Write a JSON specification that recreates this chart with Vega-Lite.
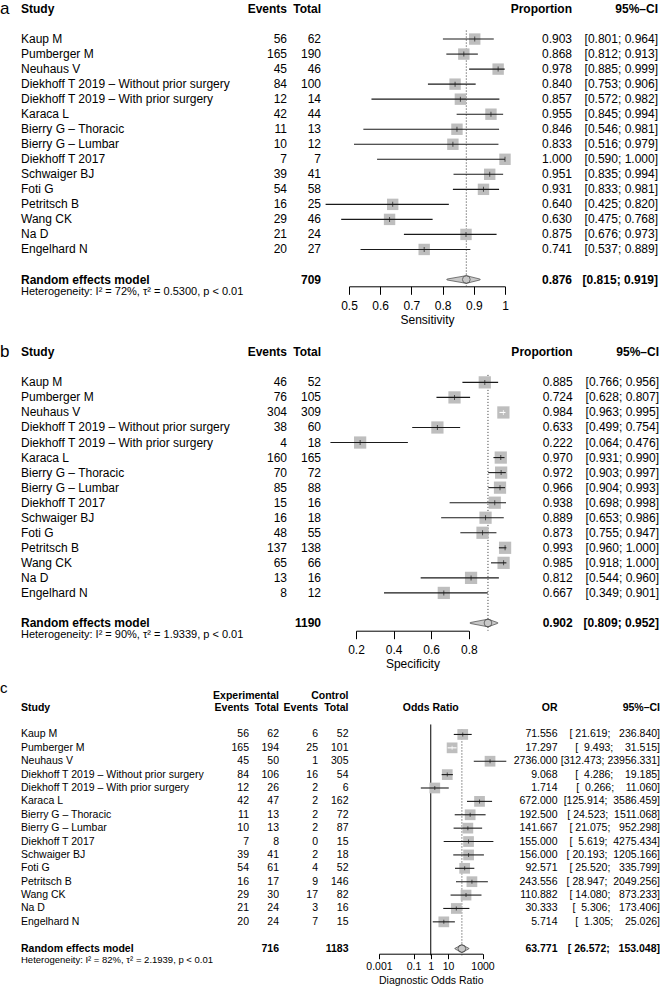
{
"$schema":"https://vega.github.io/schema/vega-lite/v6.json",
"padding":0,
"background":"white",
"datasets":{
"a":[
{"study":"Kaup M","events":56,"total":62,"est":0.903,"lo":0.801,"hi":0.964,"ci":"[0.801; 0.964]"},
{"study":"Pumberger M","events":165,"total":190,"est":0.868,"lo":0.812,"hi":0.913,"ci":"[0.812; 0.913]"},
{"study":"Neuhaus V","events":45,"total":46,"est":0.978,"lo":0.885,"hi":0.999,"ci":"[0.885; 0.999]"},
{"study":"Diekhoff T 2019 – Without prior surgery","events":84,"total":100,"est":0.840,"lo":0.753,"hi":0.906,"ci":"[0.753; 0.906]"},
{"study":"Diekhoff T 2019 – With prior surgery","events":12,"total":14,"est":0.857,"lo":0.572,"hi":0.982,"ci":"[0.572; 0.982]"},
{"study":"Karaca L","events":42,"total":44,"est":0.955,"lo":0.845,"hi":0.994,"ci":"[0.845; 0.994]"},
{"study":"Bierry G – Thoracic","events":11,"total":13,"est":0.846,"lo":0.546,"hi":0.981,"ci":"[0.546; 0.981]"},
{"study":"Bierry G – Lumbar","events":10,"total":12,"est":0.833,"lo":0.516,"hi":0.979,"ci":"[0.516; 0.979]"},
{"study":"Diekhoff T 2017","events":7,"total":7,"est":1.000,"lo":0.590,"hi":1.000,"ci":"[0.590; 1.000]"},
{"study":"Schwaiger BJ","events":39,"total":41,"est":0.951,"lo":0.835,"hi":0.994,"ci":"[0.835; 0.994]"},
{"study":"Foti G","events":54,"total":58,"est":0.931,"lo":0.833,"hi":0.981,"ci":"[0.833; 0.981]"},
{"study":"Petritsch B","events":16,"total":25,"est":0.640,"lo":0.425,"hi":0.820,"ci":"[0.425; 0.820]"},
{"study":"Wang CK","events":29,"total":46,"est":0.630,"lo":0.475,"hi":0.768,"ci":"[0.475; 0.768]"},
{"study":"Na D","events":21,"total":24,"est":0.875,"lo":0.676,"hi":0.973,"ci":"[0.676; 0.973]"},
{"study":"Engelhard N","events":20,"total":27,"est":0.741,"lo":0.537,"hi":0.889,"ci":"[0.537; 0.889]"}
],
"a_sum":[{"total":709,"est":0.876,"lo":0.815,"hi":0.919,"ci":"[0.815; 0.919]"}],
"b":[
{"study":"Kaup M","events":46,"total":52,"est":0.885,"lo":0.766,"hi":0.956,"ci":"[0.766; 0.956]"},
{"study":"Pumberger M","events":76,"total":105,"est":0.724,"lo":0.628,"hi":0.807,"ci":"[0.628; 0.807]"},
{"study":"Neuhaus V","events":304,"total":309,"est":0.984,"lo":0.963,"hi":0.995,"ci":"[0.963; 0.995]"},
{"study":"Diekhoff T 2019 – Without prior surgery","events":38,"total":60,"est":0.633,"lo":0.499,"hi":0.754,"ci":"[0.499; 0.754]"},
{"study":"Diekhoff T 2019 – With prior surgery","events":4,"total":18,"est":0.222,"lo":0.064,"hi":0.476,"ci":"[0.064; 0.476]"},
{"study":"Karaca L","events":160,"total":165,"est":0.970,"lo":0.931,"hi":0.990,"ci":"[0.931; 0.990]"},
{"study":"Bierry G – Thoracic","events":70,"total":72,"est":0.972,"lo":0.903,"hi":0.997,"ci":"[0.903; 0.997]"},
{"study":"Bierry G – Lumbar","events":85,"total":88,"est":0.966,"lo":0.904,"hi":0.993,"ci":"[0.904; 0.993]"},
{"study":"Diekhoff T 2017","events":15,"total":16,"est":0.938,"lo":0.698,"hi":0.998,"ci":"[0.698; 0.998]"},
{"study":"Schwaiger BJ","events":16,"total":18,"est":0.889,"lo":0.653,"hi":0.986,"ci":"[0.653; 0.986]"},
{"study":"Foti G","events":48,"total":55,"est":0.873,"lo":0.755,"hi":0.947,"ci":"[0.755; 0.947]"},
{"study":"Petritsch B","events":137,"total":138,"est":0.993,"lo":0.960,"hi":1.000,"ci":"[0.960; 1.000]"},
{"study":"Wang CK","events":65,"total":66,"est":0.985,"lo":0.918,"hi":1.000,"ci":"[0.918; 1.000]"},
{"study":"Na D","events":13,"total":16,"est":0.812,"lo":0.544,"hi":0.960,"ci":"[0.544; 0.960]"},
{"study":"Engelhard N","events":8,"total":12,"est":0.667,"lo":0.349,"hi":0.901,"ci":"[0.349; 0.901]"}
],
"b_sum":[{"total":1190,"est":0.902,"lo":0.809,"hi":0.952,"ci":"[0.809; 0.952]"}],
"c":[
{"study":"Kaup M","ee":56,"et":62,"ce":6,"ct":52,"est":71.556,"lo":21.619,"hi":236.840,"ci":"[\u00a021.619;\u00a0\u00a0\u00a0236.840]"},
{"study":"Pumberger M","ee":165,"et":194,"ce":25,"ct":101,"est":17.297,"lo":9.493,"hi":31.515,"ci":"[\u00a0\u00a09.493;\u00a0\u00a0\u00a0\u00a031.515]"},
{"study":"Neuhaus V","ee":45,"et":50,"ce":1,"ct":305,"est":2736.000,"lo":312.473,"hi":23956.331,"ci":"[312.473;\u00a023956.331]"},
{"study":"Diekhoff T 2019 – Without prior surgery","ee":84,"et":106,"ce":16,"ct":54,"est":9.068,"lo":4.286,"hi":19.185,"ci":"[\u00a0\u00a04.286;\u00a0\u00a0\u00a0\u00a019.185]"},
{"study":"Diekhoff T 2019 – With prior surgery","ee":12,"et":26,"ce":2,"ct":6,"est":1.714,"lo":0.266,"hi":11.060,"ci":"[\u00a0\u00a00.266;\u00a0\u00a0\u00a0\u00a011.060]"},
{"study":"Karaca L","ee":42,"et":47,"ce":2,"ct":162,"est":672.000,"lo":125.914,"hi":3586.459,"ci":"[125.914;\u00a0\u00a03586.459]"},
{"study":"Bierry G – Thoracic","ee":11,"et":13,"ce":2,"ct":72,"est":192.500,"lo":24.523,"hi":1511.068,"ci":"[\u00a024.523;\u00a0\u00a01511.068]"},
{"study":"Bierry G – Lumbar","ee":10,"et":13,"ce":2,"ct":87,"est":141.667,"lo":21.075,"hi":952.298,"ci":"[\u00a021.075;\u00a0\u00a0\u00a0952.298]"},
{"study":"Diekhoff T 2017","ee":7,"et":8,"ce":0,"ct":15,"est":155.000,"lo":5.619,"hi":4275.434,"ci":"[\u00a0\u00a05.619;\u00a0\u00a04275.434]"},
{"study":"Schwaiger BJ","ee":39,"et":41,"ce":2,"ct":18,"est":156.000,"lo":20.193,"hi":1205.166,"ci":"[\u00a020.193;\u00a0\u00a01205.166]"},
{"study":"Foti G","ee":54,"et":61,"ce":4,"ct":52,"est":92.571,"lo":25.520,"hi":335.799,"ci":"[\u00a025.520;\u00a0\u00a0\u00a0335.799]"},
{"study":"Petritsch B","ee":16,"et":17,"ce":9,"ct":146,"est":243.556,"lo":28.947,"hi":2049.256,"ci":"[\u00a028.947;\u00a0\u00a02049.256]"},
{"study":"Wang CK","ee":29,"et":30,"ce":17,"ct":82,"est":110.882,"lo":14.080,"hi":873.233,"ci":"[\u00a014.080;\u00a0\u00a0\u00a0873.233]"},
{"study":"Na D","ee":21,"et":24,"ce":3,"ct":16,"est":30.333,"lo":5.306,"hi":173.406,"ci":"[\u00a0\u00a05.306;\u00a0\u00a0\u00a0173.406]"},
{"study":"Engelhard N","ee":20,"et":24,"ce":7,"ct":15,"est":5.714,"lo":1.305,"hi":25.026,"ci":"[\u00a0\u00a01.305;\u00a0\u00a0\u00a0\u00a025.026]"}
],
"c_sum":[{"et":716,"ct":1183,"est":63.771,"lo":26.572,"hi":153.048,"ci":"[\u00a026.572;\u00a0\u00a0\u00a0153.048]"}]
},
"vconcat":[
{"hconcat":[
 {"width":21,"height":283.3,"data":{"values":[{"t":"a"}]},"mark":{"type":"text","align":"left","baseline":"middle","fontSize":17},"encoding":{"x":{"datum":0,"type":"quantitative","scale":{"domain":[0,1],"nice":false,"zero":false},"axis":null},"y":{"datum":"hdr","type":"nominal","scale":{"type":"point","domain":["hdr","g1","Kaup M","Pumberger M","Neuhaus V","Diekhoff T 2019 – Without prior surgery","Diekhoff T 2019 – With prior surgery","Karaca L","Bierry G – Thoracic","Bierry G – Lumbar","Diekhoff T 2017","Schwaiger BJ","Foti G","Petritsch B","Wang CK","Na D","Engelhard N","g2","summary"],"padding":0.426,"align":0.469},"axis":null},"text":{"field":"t","type":"nominal"}}},
 {"width":232,"height":283.3,"layer":[
  {"data":{"name":"a"},"mark":{"type":"text","align":"left","baseline":"middle","fontSize":12},"encoding":{"x":{"datum":0,"type":"quantitative","scale":{"domain":[0,1],"nice":false,"zero":false},"axis":null},"y":{"field":"study","type":"nominal","scale":{"type":"point","domain":["hdr","g1","Kaup M","Pumberger M","Neuhaus V","Diekhoff T 2019 – Without prior surgery","Diekhoff T 2019 – With prior surgery","Karaca L","Bierry G – Thoracic","Bierry G – Lumbar","Diekhoff T 2017","Schwaiger BJ","Foti G","Petritsch B","Wang CK","Na D","Engelhard N","g2","summary"],"padding":0.426,"align":0.469},"axis":null},"text":{"field":"study","type":"nominal"}}},
  {"data":{"values":[{"t":"Study"}]},"mark":{"type":"text","align":"left","baseline":"middle","fontSize":12,"fontWeight":"bold"},"encoding":{"x":{"datum":0,"type":"quantitative","scale":{"domain":[0,1],"nice":false,"zero":false},"axis":null},"y":{"datum":"hdr","type":"nominal","scale":{"type":"point","domain":["hdr","g1","Kaup M","Pumberger M","Neuhaus V","Diekhoff T 2019 – Without prior surgery","Diekhoff T 2019 – With prior surgery","Karaca L","Bierry G – Thoracic","Bierry G – Lumbar","Diekhoff T 2017","Schwaiger BJ","Foti G","Petritsch B","Wang CK","Na D","Engelhard N","g2","summary"],"padding":0.426,"align":0.469},"axis":null},"text":{"field":"t","type":"nominal"}}},
  {"data":{"values":[{"t":"Random effects model"}]},"mark":{"type":"text","align":"left","baseline":"middle","fontSize":12,"fontWeight":"bold"},"encoding":{"x":{"datum":0,"type":"quantitative","scale":{"domain":[0,1],"nice":false,"zero":false},"axis":null},"y":{"datum":"summary","type":"nominal","scale":{"type":"point","domain":["hdr","g1","Kaup M","Pumberger M","Neuhaus V","Diekhoff T 2019 – Without prior surgery","Diekhoff T 2019 – With prior surgery","Karaca L","Bierry G – Thoracic","Bierry G – Lumbar","Diekhoff T 2017","Schwaiger BJ","Foti G","Petritsch B","Wang CK","Na D","Engelhard N","g2","summary"],"padding":0.426,"align":0.469},"axis":null},"text":{"field":"t","type":"nominal"}}},
  {"data":{"values":[{"t":"Heterogeneity: I² = 72%, τ² = 0.5300, p < 0.01"}]},"mark":{"type":"text","align":"left","baseline":"middle","fontSize":11,"dy":12.5},"encoding":{"x":{"datum":0,"type":"quantitative","scale":{"domain":[0,1],"nice":false,"zero":false},"axis":null},"y":{"datum":"summary","type":"nominal","scale":{"type":"point","domain":["hdr","g1","Kaup M","Pumberger M","Neuhaus V","Diekhoff T 2019 – Without prior surgery","Diekhoff T 2019 – With prior surgery","Karaca L","Bierry G – Thoracic","Bierry G – Lumbar","Diekhoff T 2017","Schwaiger BJ","Foti G","Petritsch B","Wang CK","Na D","Engelhard N","g2","summary"],"padding":0.426,"align":0.469},"axis":null},"text":{"field":"t","type":"nominal"}}}
 ]},
 {"width":34,"height":283.3,"layer":[
  {"data":{"name":"a"},"mark":{"type":"text","align":"right","baseline":"middle","fontSize":12},"encoding":{"x":{"datum":1,"type":"quantitative","scale":{"domain":[0,1],"nice":false,"zero":false},"axis":null},"y":{"field":"study","type":"nominal","scale":{"type":"point","domain":["hdr","g1","Kaup M","Pumberger M","Neuhaus V","Diekhoff T 2019 – Without prior surgery","Diekhoff T 2019 – With prior surgery","Karaca L","Bierry G – Thoracic","Bierry G – Lumbar","Diekhoff T 2017","Schwaiger BJ","Foti G","Petritsch B","Wang CK","Na D","Engelhard N","g2","summary"],"padding":0.426,"align":0.469},"axis":null},"text":{"field":"events","type":"nominal"}}},
  {"data":{"values":[{"t":"Events"}]},"mark":{"type":"text","align":"right","baseline":"middle","fontSize":12,"fontWeight":"bold"},"encoding":{"x":{"datum":1,"type":"quantitative","scale":{"domain":[0,1],"nice":false,"zero":false},"axis":null},"y":{"datum":"hdr","type":"nominal","scale":{"type":"point","domain":["hdr","g1","Kaup M","Pumberger M","Neuhaus V","Diekhoff T 2019 – Without prior surgery","Diekhoff T 2019 – With prior surgery","Karaca L","Bierry G – Thoracic","Bierry G – Lumbar","Diekhoff T 2017","Schwaiger BJ","Foti G","Petritsch B","Wang CK","Na D","Engelhard N","g2","summary"],"padding":0.426,"align":0.469},"axis":null},"text":{"field":"t","type":"nominal"}}}
 ]},
 {"width":34,"height":283.3,"layer":[
  {"data":{"name":"a"},"mark":{"type":"text","align":"right","baseline":"middle","fontSize":12},"encoding":{"x":{"datum":1,"type":"quantitative","scale":{"domain":[0,1],"nice":false,"zero":false},"axis":null},"y":{"field":"study","type":"nominal","scale":{"type":"point","domain":["hdr","g1","Kaup M","Pumberger M","Neuhaus V","Diekhoff T 2019 – Without prior surgery","Diekhoff T 2019 – With prior surgery","Karaca L","Bierry G – Thoracic","Bierry G – Lumbar","Diekhoff T 2017","Schwaiger BJ","Foti G","Petritsch B","Wang CK","Na D","Engelhard N","g2","summary"],"padding":0.426,"align":0.469},"axis":null},"text":{"field":"total","type":"nominal"}}},
  {"data":{"values":[{"t":"Total"}]},"mark":{"type":"text","align":"right","baseline":"middle","fontSize":12,"fontWeight":"bold"},"encoding":{"x":{"datum":1,"type":"quantitative","scale":{"domain":[0,1],"nice":false,"zero":false},"axis":null},"y":{"datum":"hdr","type":"nominal","scale":{"type":"point","domain":["hdr","g1","Kaup M","Pumberger M","Neuhaus V","Diekhoff T 2019 – Without prior surgery","Diekhoff T 2019 – With prior surgery","Karaca L","Bierry G – Thoracic","Bierry G – Lumbar","Diekhoff T 2017","Schwaiger BJ","Foti G","Petritsch B","Wang CK","Na D","Engelhard N","g2","summary"],"padding":0.426,"align":0.469},"axis":null},"text":{"field":"t","type":"nominal"}}},
  {"data":{"name":"a_sum"},"mark":{"type":"text","align":"right","baseline":"middle","fontSize":12,"fontWeight":"bold"},"encoding":{"x":{"datum":1,"type":"quantitative","scale":{"domain":[0,1],"nice":false,"zero":false},"axis":null},"y":{"datum":"summary","type":"nominal","scale":{"type":"point","domain":["hdr","g1","Kaup M","Pumberger M","Neuhaus V","Diekhoff T 2019 – Without prior surgery","Diekhoff T 2019 – With prior surgery","Karaca L","Bierry G – Thoracic","Bierry G – Lumbar","Diekhoff T 2017","Schwaiger BJ","Foti G","Petritsch B","Wang CK","Na D","Engelhard N","g2","summary"],"padding":0.426,"align":0.469},"axis":null},"text":{"field":"total","type":"nominal"}}}
 ]},
 {"width":28,"height":283.3,"data":{"values":[]},"mark":"text"},
 {"width":156,"height":283.3,"layer":[
  {"data":{"name":"a_sum"},"mark":{"type":"rule","strokeDash":[1,2],"color":"#333333","strokeWidth":1,"yOffset":-8.5,"y2Offset":6.8,"clip":false},"encoding":{"x":{"field":"est","type":"quantitative","scale":{"domain":[0.5,1],"nice":false,"zero":false},"axis":{"values":[0.5,0.6,0.7,0.8,0.9,1],"format":"~g","title":"Sensitivity","tickSize":8,"labelPadding":6,"titlePadding":3,"labelFontSize":12,"titleFontSize":12}},"y":{"datum":"Kaup M","type":"nominal","scale":{"type":"point","domain":["hdr","g1","Kaup M","Pumberger M","Neuhaus V","Diekhoff T 2019 – Without prior surgery","Diekhoff T 2019 – With prior surgery","Karaca L","Bierry G – Thoracic","Bierry G – Lumbar","Diekhoff T 2017","Schwaiger BJ","Foti G","Petritsch B","Wang CK","Na D","Engelhard N","g2","summary"],"padding":0.426,"align":0.469},"axis":null},"y2":{"datum":"summary"}}},
  {"data":{"name":"a"},"mark":{"type":"point","shape":"square","filled":true,"size":130,"color":"#BEBEBE","opacity":1,"strokeWidth":0,"clip":false},"encoding":{"x":{"field":"est","type":"quantitative","scale":{"domain":[0.5,1],"nice":false,"zero":false},"axis":{"values":[0.5,0.6,0.7,0.8,0.9,1],"format":"~g","title":"Sensitivity","tickSize":8,"labelPadding":6,"titlePadding":3,"labelFontSize":12,"titleFontSize":12}},"y":{"field":"study","type":"nominal","scale":{"type":"point","domain":["hdr","g1","Kaup M","Pumberger M","Neuhaus V","Diekhoff T 2019 – Without prior surgery","Diekhoff T 2019 – With prior surgery","Karaca L","Bierry G – Thoracic","Bierry G – Lumbar","Diekhoff T 2017","Schwaiger BJ","Foti G","Petritsch B","Wang CK","Na D","Engelhard N","g2","summary"],"padding":0.426,"align":0.469},"axis":null}}},
  {"data":{"name":"a"},"mark":{"type":"rule","strokeWidth":1.1,"clip":false},"encoding":{"x":{"field":"lo","type":"quantitative","scale":{"domain":[0.5,1],"nice":false,"zero":false},"axis":{"values":[0.5,0.6,0.7,0.8,0.9,1],"format":"~g","title":"Sensitivity","tickSize":8,"labelPadding":6,"titlePadding":3,"labelFontSize":12,"titleFontSize":12}},"x2":{"field":"hi"},"y":{"field":"study","type":"nominal","scale":{"type":"point","domain":["hdr","g1","Kaup M","Pumberger M","Neuhaus V","Diekhoff T 2019 – Without prior surgery","Diekhoff T 2019 – With prior surgery","Karaca L","Bierry G – Thoracic","Bierry G – Lumbar","Diekhoff T 2017","Schwaiger BJ","Foti G","Petritsch B","Wang CK","Na D","Engelhard N","g2","summary"],"padding":0.426,"align":0.469},"axis":null},"color":{"condition":{"test":"datum.est - datum.lo < 0.0176 && datum.hi - datum.est < 0.0176","value":"#ffffff"},"value":"#1a1a1a"}}},
  {"data":{"name":"a"},"mark":{"type":"tick","size":5,"thickness":1,"clip":false},"encoding":{"x":{"field":"est","type":"quantitative","scale":{"domain":[0.5,1],"nice":false,"zero":false},"axis":{"values":[0.5,0.6,0.7,0.8,0.9,1],"format":"~g","title":"Sensitivity","tickSize":8,"labelPadding":6,"titlePadding":3,"labelFontSize":12,"titleFontSize":12}},"y":{"field":"study","type":"nominal","scale":{"type":"point","domain":["hdr","g1","Kaup M","Pumberger M","Neuhaus V","Diekhoff T 2019 – Without prior surgery","Diekhoff T 2019 – With prior surgery","Karaca L","Bierry G – Thoracic","Bierry G – Lumbar","Diekhoff T 2017","Schwaiger BJ","Foti G","Petritsch B","Wang CK","Na D","Engelhard N","g2","summary"],"padding":0.426,"align":0.469},"axis":null},"color":{"condition":{"test":"datum.est - datum.lo < 0.0176 && datum.hi - datum.est < 0.0176","value":"#ffffff"},"value":"#1a1a1a"}}},
  {"data":{"name":"a_sum"},"transform":[{"fold":["lo","est","hi"],"as":["k","v"]}],"mark":{"type":"trail","color":"#C8C8C8","stroke":"#444444","strokeWidth":0.7,"clip":false},"encoding":{"x":{"field":"v","type":"quantitative","scale":{"domain":[0.5,1],"nice":false,"zero":false},"axis":{"values":[0.5,0.6,0.7,0.8,0.9,1],"format":"~g","title":"Sensitivity","tickSize":8,"labelPadding":6,"titlePadding":3,"labelFontSize":12,"titleFontSize":12}},"y":{"datum":"summary","type":"nominal","scale":{"type":"point","domain":["hdr","g1","Kaup M","Pumberger M","Neuhaus V","Diekhoff T 2019 – Without prior surgery","Diekhoff T 2019 – With prior surgery","Karaca L","Bierry G – Thoracic","Bierry G – Lumbar","Diekhoff T 2017","Schwaiger BJ","Foti G","Petritsch B","Wang CK","Na D","Engelhard N","g2","summary"],"padding":0.426,"align":0.469},"axis":null},"size":{"field":"k","type":"nominal","scale":{"type":"ordinal","domain":["lo","est","hi"],"range":[0,7.7,0]},"legend":null}}}
 ]},
 {"width":67,"height":283.3,"layer":[
  {"data":{"name":"a"},"mark":{"type":"text","align":"right","baseline":"middle","fontSize":12},"encoding":{"x":{"datum":1,"type":"quantitative","scale":{"domain":[0,1],"nice":false,"zero":false},"axis":null},"y":{"field":"study","type":"nominal","scale":{"type":"point","domain":["hdr","g1","Kaup M","Pumberger M","Neuhaus V","Diekhoff T 2019 – Without prior surgery","Diekhoff T 2019 – With prior surgery","Karaca L","Bierry G – Thoracic","Bierry G – Lumbar","Diekhoff T 2017","Schwaiger BJ","Foti G","Petritsch B","Wang CK","Na D","Engelhard N","g2","summary"],"padding":0.426,"align":0.469},"axis":null},"text":{"field":"est","type":"quantitative","format":".3f"}}},
  {"data":{"values":[{"t":"Proportion"}]},"mark":{"type":"text","align":"right","baseline":"middle","fontSize":12,"fontWeight":"bold"},"encoding":{"x":{"datum":1,"type":"quantitative","scale":{"domain":[0,1],"nice":false,"zero":false},"axis":null},"y":{"datum":"hdr","type":"nominal","scale":{"type":"point","domain":["hdr","g1","Kaup M","Pumberger M","Neuhaus V","Diekhoff T 2019 – Without prior surgery","Diekhoff T 2019 – With prior surgery","Karaca L","Bierry G – Thoracic","Bierry G – Lumbar","Diekhoff T 2017","Schwaiger BJ","Foti G","Petritsch B","Wang CK","Na D","Engelhard N","g2","summary"],"padding":0.426,"align":0.469},"axis":null},"text":{"field":"t","type":"nominal"}}},
  {"data":{"name":"a_sum"},"mark":{"type":"text","align":"right","baseline":"middle","fontSize":12,"fontWeight":"bold"},"encoding":{"x":{"datum":1,"type":"quantitative","scale":{"domain":[0,1],"nice":false,"zero":false},"axis":null},"y":{"datum":"summary","type":"nominal","scale":{"type":"point","domain":["hdr","g1","Kaup M","Pumberger M","Neuhaus V","Diekhoff T 2019 – Without prior surgery","Diekhoff T 2019 – With prior surgery","Karaca L","Bierry G – Thoracic","Bierry G – Lumbar","Diekhoff T 2017","Schwaiger BJ","Foti G","Petritsch B","Wang CK","Na D","Engelhard N","g2","summary"],"padding":0.426,"align":0.469},"axis":null},"text":{"field":"est","type":"quantitative","format":".3f"}}}
 ]},
 {"width":86,"height":283.3,"layer":[
  {"data":{"name":"a"},"mark":{"type":"text","align":"right","baseline":"middle","fontSize":12},"encoding":{"x":{"datum":1,"type":"quantitative","scale":{"domain":[0,1],"nice":false,"zero":false},"axis":null},"y":{"field":"study","type":"nominal","scale":{"type":"point","domain":["hdr","g1","Kaup M","Pumberger M","Neuhaus V","Diekhoff T 2019 – Without prior surgery","Diekhoff T 2019 – With prior surgery","Karaca L","Bierry G – Thoracic","Bierry G – Lumbar","Diekhoff T 2017","Schwaiger BJ","Foti G","Petritsch B","Wang CK","Na D","Engelhard N","g2","summary"],"padding":0.426,"align":0.469},"axis":null},"text":{"field":"ci","type":"nominal"}}},
  {"data":{"values":[{"t":"95%–CI"}]},"mark":{"type":"text","align":"right","baseline":"middle","fontSize":12,"fontWeight":"bold"},"encoding":{"x":{"datum":1,"type":"quantitative","scale":{"domain":[0,1],"nice":false,"zero":false},"axis":null},"y":{"datum":"hdr","type":"nominal","scale":{"type":"point","domain":["hdr","g1","Kaup M","Pumberger M","Neuhaus V","Diekhoff T 2019 – Without prior surgery","Diekhoff T 2019 – With prior surgery","Karaca L","Bierry G – Thoracic","Bierry G – Lumbar","Diekhoff T 2017","Schwaiger BJ","Foti G","Petritsch B","Wang CK","Na D","Engelhard N","g2","summary"],"padding":0.426,"align":0.469},"axis":null},"text":{"field":"t","type":"nominal"}}},
  {"data":{"name":"a_sum"},"mark":{"type":"text","align":"right","baseline":"middle","fontSize":12,"fontWeight":"bold"},"encoding":{"x":{"datum":1,"type":"quantitative","scale":{"domain":[0,1],"nice":false,"zero":false},"axis":null},"y":{"datum":"summary","type":"nominal","scale":{"type":"point","domain":["hdr","g1","Kaup M","Pumberger M","Neuhaus V","Diekhoff T 2019 – Without prior surgery","Diekhoff T 2019 – With prior surgery","Karaca L","Bierry G – Thoracic","Bierry G – Lumbar","Diekhoff T 2017","Schwaiger BJ","Foti G","Petritsch B","Wang CK","Na D","Engelhard N","g2","summary"],"padding":0.426,"align":0.469},"axis":null},"text":{"field":"ci","type":"nominal"}}}
 ]}
],"spacing":0,"bounds":"flush","resolve":{"scale":{"x":"independent","y":"independent"}}},
{"hconcat":[
 {"width":21,"height":293.7,"data":{"values":[{"t":"b"}]},"mark":{"type":"text","align":"left","baseline":"middle","fontSize":17},"encoding":{"x":{"datum":0,"type":"quantitative","scale":{"domain":[0,1],"nice":false,"zero":false},"axis":null},"y":{"datum":"hdr","type":"nominal","scale":{"type":"point","domain":["hdr","g1","Kaup M","Pumberger M","Neuhaus V","Diekhoff T 2019 – Without prior surgery","Diekhoff T 2019 – With prior surgery","Karaca L","Bierry G – Thoracic","Bierry G – Lumbar","Diekhoff T 2017","Schwaiger BJ","Foti G","Petritsch B","Wang CK","Na D","Engelhard N","g2","summary"],"padding":0.765,"align":0.665},"axis":null},"text":{"field":"t","type":"nominal"}}},
 {"width":232,"height":293.7,"layer":[
  {"data":{"name":"b"},"mark":{"type":"text","align":"left","baseline":"middle","fontSize":12},"encoding":{"x":{"datum":0,"type":"quantitative","scale":{"domain":[0,1],"nice":false,"zero":false},"axis":null},"y":{"field":"study","type":"nominal","scale":{"type":"point","domain":["hdr","g1","Kaup M","Pumberger M","Neuhaus V","Diekhoff T 2019 – Without prior surgery","Diekhoff T 2019 – With prior surgery","Karaca L","Bierry G – Thoracic","Bierry G – Lumbar","Diekhoff T 2017","Schwaiger BJ","Foti G","Petritsch B","Wang CK","Na D","Engelhard N","g2","summary"],"padding":0.765,"align":0.665},"axis":null},"text":{"field":"study","type":"nominal"}}},
  {"data":{"values":[{"t":"Study"}]},"mark":{"type":"text","align":"left","baseline":"middle","fontSize":12,"fontWeight":"bold"},"encoding":{"x":{"datum":0,"type":"quantitative","scale":{"domain":[0,1],"nice":false,"zero":false},"axis":null},"y":{"datum":"hdr","type":"nominal","scale":{"type":"point","domain":["hdr","g1","Kaup M","Pumberger M","Neuhaus V","Diekhoff T 2019 – Without prior surgery","Diekhoff T 2019 – With prior surgery","Karaca L","Bierry G – Thoracic","Bierry G – Lumbar","Diekhoff T 2017","Schwaiger BJ","Foti G","Petritsch B","Wang CK","Na D","Engelhard N","g2","summary"],"padding":0.765,"align":0.665},"axis":null},"text":{"field":"t","type":"nominal"}}},
  {"data":{"values":[{"t":"Random effects model"}]},"mark":{"type":"text","align":"left","baseline":"middle","fontSize":12,"fontWeight":"bold"},"encoding":{"x":{"datum":0,"type":"quantitative","scale":{"domain":[0,1],"nice":false,"zero":false},"axis":null},"y":{"datum":"summary","type":"nominal","scale":{"type":"point","domain":["hdr","g1","Kaup M","Pumberger M","Neuhaus V","Diekhoff T 2019 – Without prior surgery","Diekhoff T 2019 – With prior surgery","Karaca L","Bierry G – Thoracic","Bierry G – Lumbar","Diekhoff T 2017","Schwaiger BJ","Foti G","Petritsch B","Wang CK","Na D","Engelhard N","g2","summary"],"padding":0.765,"align":0.665},"axis":null},"text":{"field":"t","type":"nominal"}}},
  {"data":{"values":[{"t":"Heterogeneity: I² = 90%, τ² = 1.9339, p < 0.01"}]},"mark":{"type":"text","align":"left","baseline":"middle","fontSize":11,"dy":12.5},"encoding":{"x":{"datum":0,"type":"quantitative","scale":{"domain":[0,1],"nice":false,"zero":false},"axis":null},"y":{"datum":"summary","type":"nominal","scale":{"type":"point","domain":["hdr","g1","Kaup M","Pumberger M","Neuhaus V","Diekhoff T 2019 – Without prior surgery","Diekhoff T 2019 – With prior surgery","Karaca L","Bierry G – Thoracic","Bierry G – Lumbar","Diekhoff T 2017","Schwaiger BJ","Foti G","Petritsch B","Wang CK","Na D","Engelhard N","g2","summary"],"padding":0.765,"align":0.665},"axis":null},"text":{"field":"t","type":"nominal"}}}
 ]},
 {"width":34,"height":293.7,"layer":[
  {"data":{"name":"b"},"mark":{"type":"text","align":"right","baseline":"middle","fontSize":12},"encoding":{"x":{"datum":1,"type":"quantitative","scale":{"domain":[0,1],"nice":false,"zero":false},"axis":null},"y":{"field":"study","type":"nominal","scale":{"type":"point","domain":["hdr","g1","Kaup M","Pumberger M","Neuhaus V","Diekhoff T 2019 – Without prior surgery","Diekhoff T 2019 – With prior surgery","Karaca L","Bierry G – Thoracic","Bierry G – Lumbar","Diekhoff T 2017","Schwaiger BJ","Foti G","Petritsch B","Wang CK","Na D","Engelhard N","g2","summary"],"padding":0.765,"align":0.665},"axis":null},"text":{"field":"events","type":"nominal"}}},
  {"data":{"values":[{"t":"Events"}]},"mark":{"type":"text","align":"right","baseline":"middle","fontSize":12,"fontWeight":"bold"},"encoding":{"x":{"datum":1,"type":"quantitative","scale":{"domain":[0,1],"nice":false,"zero":false},"axis":null},"y":{"datum":"hdr","type":"nominal","scale":{"type":"point","domain":["hdr","g1","Kaup M","Pumberger M","Neuhaus V","Diekhoff T 2019 – Without prior surgery","Diekhoff T 2019 – With prior surgery","Karaca L","Bierry G – Thoracic","Bierry G – Lumbar","Diekhoff T 2017","Schwaiger BJ","Foti G","Petritsch B","Wang CK","Na D","Engelhard N","g2","summary"],"padding":0.765,"align":0.665},"axis":null},"text":{"field":"t","type":"nominal"}}}
 ]},
 {"width":34,"height":293.7,"layer":[
  {"data":{"name":"b"},"mark":{"type":"text","align":"right","baseline":"middle","fontSize":12},"encoding":{"x":{"datum":1,"type":"quantitative","scale":{"domain":[0,1],"nice":false,"zero":false},"axis":null},"y":{"field":"study","type":"nominal","scale":{"type":"point","domain":["hdr","g1","Kaup M","Pumberger M","Neuhaus V","Diekhoff T 2019 – Without prior surgery","Diekhoff T 2019 – With prior surgery","Karaca L","Bierry G – Thoracic","Bierry G – Lumbar","Diekhoff T 2017","Schwaiger BJ","Foti G","Petritsch B","Wang CK","Na D","Engelhard N","g2","summary"],"padding":0.765,"align":0.665},"axis":null},"text":{"field":"total","type":"nominal"}}},
  {"data":{"values":[{"t":"Total"}]},"mark":{"type":"text","align":"right","baseline":"middle","fontSize":12,"fontWeight":"bold"},"encoding":{"x":{"datum":1,"type":"quantitative","scale":{"domain":[0,1],"nice":false,"zero":false},"axis":null},"y":{"datum":"hdr","type":"nominal","scale":{"type":"point","domain":["hdr","g1","Kaup M","Pumberger M","Neuhaus V","Diekhoff T 2019 – Without prior surgery","Diekhoff T 2019 – With prior surgery","Karaca L","Bierry G – Thoracic","Bierry G – Lumbar","Diekhoff T 2017","Schwaiger BJ","Foti G","Petritsch B","Wang CK","Na D","Engelhard N","g2","summary"],"padding":0.765,"align":0.665},"axis":null},"text":{"field":"t","type":"nominal"}}},
  {"data":{"name":"b_sum"},"mark":{"type":"text","align":"right","baseline":"middle","fontSize":12,"fontWeight":"bold"},"encoding":{"x":{"datum":1,"type":"quantitative","scale":{"domain":[0,1],"nice":false,"zero":false},"axis":null},"y":{"datum":"summary","type":"nominal","scale":{"type":"point","domain":["hdr","g1","Kaup M","Pumberger M","Neuhaus V","Diekhoff T 2019 – Without prior surgery","Diekhoff T 2019 – With prior surgery","Karaca L","Bierry G – Thoracic","Bierry G – Lumbar","Diekhoff T 2017","Schwaiger BJ","Foti G","Petritsch B","Wang CK","Na D","Engelhard N","g2","summary"],"padding":0.765,"align":0.665},"axis":null},"text":{"field":"total","type":"nominal"}}}
 ]},
 {"width":34.5,"height":293.7,"data":{"values":[]},"mark":"text"},
 {"width":112.8,"height":293.7,"layer":[
  {"data":{"name":"b_sum"},"mark":{"type":"rule","strokeDash":[1,2],"color":"#333333","strokeWidth":1,"yOffset":-7.5,"y2Offset":7.7,"clip":false},"encoding":{"x":{"field":"est","type":"quantitative","scale":{"domain":[0.2,0.8],"nice":false,"zero":false},"axis":{"values":[0.2,0.4,0.6,0.8],"format":"~g","title":"Specificity","tickSize":8,"labelPadding":6,"titlePadding":3,"labelFontSize":12,"titleFontSize":12}},"y":{"datum":"Kaup M","type":"nominal","scale":{"type":"point","domain":["hdr","g1","Kaup M","Pumberger M","Neuhaus V","Diekhoff T 2019 – Without prior surgery","Diekhoff T 2019 – With prior surgery","Karaca L","Bierry G – Thoracic","Bierry G – Lumbar","Diekhoff T 2017","Schwaiger BJ","Foti G","Petritsch B","Wang CK","Na D","Engelhard N","g2","summary"],"padding":0.765,"align":0.665},"axis":null},"y2":{"datum":"summary"}}},
  {"data":{"name":"b"},"mark":{"type":"point","shape":"square","filled":true,"size":150,"color":"#BEBEBE","opacity":1,"strokeWidth":0,"clip":false},"encoding":{"x":{"field":"est","type":"quantitative","scale":{"domain":[0.2,0.8],"nice":false,"zero":false},"axis":{"values":[0.2,0.4,0.6,0.8],"format":"~g","title":"Specificity","tickSize":8,"labelPadding":6,"titlePadding":3,"labelFontSize":12,"titleFontSize":12}},"y":{"field":"study","type":"nominal","scale":{"type":"point","domain":["hdr","g1","Kaup M","Pumberger M","Neuhaus V","Diekhoff T 2019 – Without prior surgery","Diekhoff T 2019 – With prior surgery","Karaca L","Bierry G – Thoracic","Bierry G – Lumbar","Diekhoff T 2017","Schwaiger BJ","Foti G","Petritsch B","Wang CK","Na D","Engelhard N","g2","summary"],"padding":0.765,"align":0.665},"axis":null}}},
  {"data":{"name":"b"},"mark":{"type":"rule","strokeWidth":1.1,"clip":false},"encoding":{"x":{"field":"lo","type":"quantitative","scale":{"domain":[0.2,0.8],"nice":false,"zero":false},"axis":{"values":[0.2,0.4,0.6,0.8],"format":"~g","title":"Specificity","tickSize":8,"labelPadding":6,"titlePadding":3,"labelFontSize":12,"titleFontSize":12}},"x2":{"field":"hi"},"y":{"field":"study","type":"nominal","scale":{"type":"point","domain":["hdr","g1","Kaup M","Pumberger M","Neuhaus V","Diekhoff T 2019 – Without prior surgery","Diekhoff T 2019 – With prior surgery","Karaca L","Bierry G – Thoracic","Bierry G – Lumbar","Diekhoff T 2017","Schwaiger BJ","Foti G","Petritsch B","Wang CK","Na D","Engelhard N","g2","summary"],"padding":0.765,"align":0.665},"axis":null},"color":{"condition":{"test":"datum.est - datum.lo < 0.029 && datum.hi - datum.est < 0.029","value":"#ffffff"},"value":"#1a1a1a"}}},
  {"data":{"name":"b"},"mark":{"type":"tick","size":5,"thickness":1,"clip":false},"encoding":{"x":{"field":"est","type":"quantitative","scale":{"domain":[0.2,0.8],"nice":false,"zero":false},"axis":{"values":[0.2,0.4,0.6,0.8],"format":"~g","title":"Specificity","tickSize":8,"labelPadding":6,"titlePadding":3,"labelFontSize":12,"titleFontSize":12}},"y":{"field":"study","type":"nominal","scale":{"type":"point","domain":["hdr","g1","Kaup M","Pumberger M","Neuhaus V","Diekhoff T 2019 – Without prior surgery","Diekhoff T 2019 – With prior surgery","Karaca L","Bierry G – Thoracic","Bierry G – Lumbar","Diekhoff T 2017","Schwaiger BJ","Foti G","Petritsch B","Wang CK","Na D","Engelhard N","g2","summary"],"padding":0.765,"align":0.665},"axis":null},"color":{"condition":{"test":"datum.est - datum.lo < 0.029 && datum.hi - datum.est < 0.029","value":"#ffffff"},"value":"#1a1a1a"}}},
  {"data":{"name":"b_sum"},"transform":[{"fold":["lo","est","hi"],"as":["k","v"]}],"mark":{"type":"trail","color":"#C8C8C8","stroke":"#444444","strokeWidth":0.7,"clip":false},"encoding":{"x":{"field":"v","type":"quantitative","scale":{"domain":[0.2,0.8],"nice":false,"zero":false},"axis":{"values":[0.2,0.4,0.6,0.8],"format":"~g","title":"Specificity","tickSize":8,"labelPadding":6,"titlePadding":3,"labelFontSize":12,"titleFontSize":12}},"y":{"datum":"summary","type":"nominal","scale":{"type":"point","domain":["hdr","g1","Kaup M","Pumberger M","Neuhaus V","Diekhoff T 2019 – Without prior surgery","Diekhoff T 2019 – With prior surgery","Karaca L","Bierry G – Thoracic","Bierry G – Lumbar","Diekhoff T 2017","Schwaiger BJ","Foti G","Petritsch B","Wang CK","Na D","Engelhard N","g2","summary"],"padding":0.765,"align":0.665},"axis":null},"size":{"field":"k","type":"nominal","scale":{"type":"ordinal","domain":["lo","est","hi"],"range":[0,8.3,0]},"legend":null}}}
 ]},
 {"width":103.7,"height":293.7,"layer":[
  {"data":{"name":"b"},"mark":{"type":"text","align":"right","baseline":"middle","fontSize":12},"encoding":{"x":{"datum":1,"type":"quantitative","scale":{"domain":[0,1],"nice":false,"zero":false},"axis":null},"y":{"field":"study","type":"nominal","scale":{"type":"point","domain":["hdr","g1","Kaup M","Pumberger M","Neuhaus V","Diekhoff T 2019 – Without prior surgery","Diekhoff T 2019 – With prior surgery","Karaca L","Bierry G – Thoracic","Bierry G – Lumbar","Diekhoff T 2017","Schwaiger BJ","Foti G","Petritsch B","Wang CK","Na D","Engelhard N","g2","summary"],"padding":0.765,"align":0.665},"axis":null},"text":{"field":"est","type":"quantitative","format":".3f"}}},
  {"data":{"values":[{"t":"Proportion"}]},"mark":{"type":"text","align":"right","baseline":"middle","fontSize":12,"fontWeight":"bold"},"encoding":{"x":{"datum":1,"type":"quantitative","scale":{"domain":[0,1],"nice":false,"zero":false},"axis":null},"y":{"datum":"hdr","type":"nominal","scale":{"type":"point","domain":["hdr","g1","Kaup M","Pumberger M","Neuhaus V","Diekhoff T 2019 – Without prior surgery","Diekhoff T 2019 – With prior surgery","Karaca L","Bierry G – Thoracic","Bierry G – Lumbar","Diekhoff T 2017","Schwaiger BJ","Foti G","Petritsch B","Wang CK","Na D","Engelhard N","g2","summary"],"padding":0.765,"align":0.665},"axis":null},"text":{"field":"t","type":"nominal"}}},
  {"data":{"name":"b_sum"},"mark":{"type":"text","align":"right","baseline":"middle","fontSize":12,"fontWeight":"bold"},"encoding":{"x":{"datum":1,"type":"quantitative","scale":{"domain":[0,1],"nice":false,"zero":false},"axis":null},"y":{"datum":"summary","type":"nominal","scale":{"type":"point","domain":["hdr","g1","Kaup M","Pumberger M","Neuhaus V","Diekhoff T 2019 – Without prior surgery","Diekhoff T 2019 – With prior surgery","Karaca L","Bierry G – Thoracic","Bierry G – Lumbar","Diekhoff T 2017","Schwaiger BJ","Foti G","Petritsch B","Wang CK","Na D","Engelhard N","g2","summary"],"padding":0.765,"align":0.665},"axis":null},"text":{"field":"est","type":"quantitative","format":".3f"}}}
 ]},
 {"width":86,"height":293.7,"layer":[
  {"data":{"name":"b"},"mark":{"type":"text","align":"right","baseline":"middle","fontSize":12},"encoding":{"x":{"datum":1,"type":"quantitative","scale":{"domain":[0,1],"nice":false,"zero":false},"axis":null},"y":{"field":"study","type":"nominal","scale":{"type":"point","domain":["hdr","g1","Kaup M","Pumberger M","Neuhaus V","Diekhoff T 2019 – Without prior surgery","Diekhoff T 2019 – With prior surgery","Karaca L","Bierry G – Thoracic","Bierry G – Lumbar","Diekhoff T 2017","Schwaiger BJ","Foti G","Petritsch B","Wang CK","Na D","Engelhard N","g2","summary"],"padding":0.765,"align":0.665},"axis":null},"text":{"field":"ci","type":"nominal"}}},
  {"data":{"values":[{"t":"95%–CI"}]},"mark":{"type":"text","align":"right","baseline":"middle","fontSize":12,"fontWeight":"bold"},"encoding":{"x":{"datum":1,"type":"quantitative","scale":{"domain":[0,1],"nice":false,"zero":false},"axis":null},"y":{"datum":"hdr","type":"nominal","scale":{"type":"point","domain":["hdr","g1","Kaup M","Pumberger M","Neuhaus V","Diekhoff T 2019 – Without prior surgery","Diekhoff T 2019 – With prior surgery","Karaca L","Bierry G – Thoracic","Bierry G – Lumbar","Diekhoff T 2017","Schwaiger BJ","Foti G","Petritsch B","Wang CK","Na D","Engelhard N","g2","summary"],"padding":0.765,"align":0.665},"axis":null},"text":{"field":"t","type":"nominal"}}},
  {"data":{"name":"b_sum"},"mark":{"type":"text","align":"right","baseline":"middle","fontSize":12,"fontWeight":"bold"},"encoding":{"x":{"datum":1,"type":"quantitative","scale":{"domain":[0,1],"nice":false,"zero":false},"axis":null},"y":{"datum":"summary","type":"nominal","scale":{"type":"point","domain":["hdr","g1","Kaup M","Pumberger M","Neuhaus V","Diekhoff T 2019 – Without prior surgery","Diekhoff T 2019 – With prior surgery","Karaca L","Bierry G – Thoracic","Bierry G – Lumbar","Diekhoff T 2017","Schwaiger BJ","Foti G","Petritsch B","Wang CK","Na D","Engelhard N","g2","summary"],"padding":0.765,"align":0.665},"axis":null},"text":{"field":"ci","type":"nominal"}}}
 ]}
],"spacing":0,"bounds":"flush","resolve":{"scale":{"x":"independent","y":"independent"}}},
{"hconcat":[
 {"width":21,"height":267.7,"data":{"values":[{"t":"c"}]},"mark":{"type":"text","align":"left","baseline":"middle","fontSize":15,"dy":-19.5},"encoding":{"x":{"datum":0,"type":"quantitative","scale":{"domain":[0,1],"nice":false,"zero":false},"axis":null},"y":{"datum":"hdr","type":"nominal","scale":{"type":"point","domain":["hdr","g1","Kaup M","Pumberger M","Neuhaus V","Diekhoff T 2019 – Without prior surgery","Diekhoff T 2019 – With prior surgery","Karaca L","Bierry G – Thoracic","Bierry G – Lumbar","Diekhoff T 2017","Schwaiger BJ","Foti G","Petritsch B","Wang CK","Na D","Engelhard N","g2","summary"],"padding":1.362,"align":0.81},"axis":null},"text":{"field":"t","type":"nominal"}}},
 {"width":194,"height":267.7,"layer":[
  {"data":{"name":"c"},"mark":{"type":"text","align":"left","baseline":"middle","fontSize":10.5},"encoding":{"x":{"datum":0,"type":"quantitative","scale":{"domain":[0,1],"nice":false,"zero":false},"axis":null},"y":{"field":"study","type":"nominal","scale":{"type":"point","domain":["hdr","g1","Kaup M","Pumberger M","Neuhaus V","Diekhoff T 2019 – Without prior surgery","Diekhoff T 2019 – With prior surgery","Karaca L","Bierry G – Thoracic","Bierry G – Lumbar","Diekhoff T 2017","Schwaiger BJ","Foti G","Petritsch B","Wang CK","Na D","Engelhard N","g2","summary"],"padding":1.362,"align":0.81},"axis":null},"text":{"field":"study","type":"nominal"}}},
  {"data":{"values":[{"t":"Study"}]},"mark":{"type":"text","align":"left","baseline":"middle","fontSize":10.5,"fontWeight":"bold"},"encoding":{"x":{"datum":0,"type":"quantitative","scale":{"domain":[0,1],"nice":false,"zero":false},"axis":null},"y":{"datum":"hdr","type":"nominal","scale":{"type":"point","domain":["hdr","g1","Kaup M","Pumberger M","Neuhaus V","Diekhoff T 2019 – Without prior surgery","Diekhoff T 2019 – With prior surgery","Karaca L","Bierry G – Thoracic","Bierry G – Lumbar","Diekhoff T 2017","Schwaiger BJ","Foti G","Petritsch B","Wang CK","Na D","Engelhard N","g2","summary"],"padding":1.362,"align":0.81},"axis":null},"text":{"field":"t","type":"nominal"}}},
  {"data":{"values":[{"t":"Random effects model"}]},"mark":{"type":"text","align":"left","baseline":"middle","fontSize":10.5,"fontWeight":"bold"},"encoding":{"x":{"datum":0,"type":"quantitative","scale":{"domain":[0,1],"nice":false,"zero":false},"axis":null},"y":{"datum":"summary","type":"nominal","scale":{"type":"point","domain":["hdr","g1","Kaup M","Pumberger M","Neuhaus V","Diekhoff T 2019 – Without prior surgery","Diekhoff T 2019 – With prior surgery","Karaca L","Bierry G – Thoracic","Bierry G – Lumbar","Diekhoff T 2017","Schwaiger BJ","Foti G","Petritsch B","Wang CK","Na D","Engelhard N","g2","summary"],"padding":1.362,"align":0.81},"axis":null},"text":{"field":"t","type":"nominal"}}},
  {"data":{"values":[{"t":"Heterogeneity: I² = 82%, τ² = 2.1939, p < 0.01"}]},"mark":{"type":"text","align":"left","baseline":"middle","fontSize":9.5,"dy":11.5},"encoding":{"x":{"datum":0,"type":"quantitative","scale":{"domain":[0,1],"nice":false,"zero":false},"axis":null},"y":{"datum":"summary","type":"nominal","scale":{"type":"point","domain":["hdr","g1","Kaup M","Pumberger M","Neuhaus V","Diekhoff T 2019 – Without prior surgery","Diekhoff T 2019 – With prior surgery","Karaca L","Bierry G – Thoracic","Bierry G – Lumbar","Diekhoff T 2017","Schwaiger BJ","Foti G","Petritsch B","Wang CK","Na D","Engelhard N","g2","summary"],"padding":1.362,"align":0.81},"axis":null},"text":{"field":"t","type":"nominal"}}}
 ]},
 {"width":34,"height":267.7,"layer":[
  {"data":{"name":"c"},"mark":{"type":"text","align":"right","baseline":"middle","fontSize":10.5},"encoding":{"x":{"datum":1,"type":"quantitative","scale":{"domain":[0,1],"nice":false,"zero":false},"axis":null},"y":{"field":"study","type":"nominal","scale":{"type":"point","domain":["hdr","g1","Kaup M","Pumberger M","Neuhaus V","Diekhoff T 2019 – Without prior surgery","Diekhoff T 2019 – With prior surgery","Karaca L","Bierry G – Thoracic","Bierry G – Lumbar","Diekhoff T 2017","Schwaiger BJ","Foti G","Petritsch B","Wang CK","Na D","Engelhard N","g2","summary"],"padding":1.362,"align":0.81},"axis":null},"text":{"field":"ee","type":"nominal"}}},
  {"data":{"values":[{"t":"Events"}]},"mark":{"type":"text","align":"right","baseline":"middle","fontSize":10.5,"fontWeight":"bold"},"encoding":{"x":{"datum":1,"type":"quantitative","scale":{"domain":[0,1],"nice":false,"zero":false},"axis":null},"y":{"datum":"hdr","type":"nominal","scale":{"type":"point","domain":["hdr","g1","Kaup M","Pumberger M","Neuhaus V","Diekhoff T 2019 – Without prior surgery","Diekhoff T 2019 – With prior surgery","Karaca L","Bierry G – Thoracic","Bierry G – Lumbar","Diekhoff T 2017","Schwaiger BJ","Foti G","Petritsch B","Wang CK","Na D","Engelhard N","g2","summary"],"padding":1.362,"align":0.81},"axis":null},"text":{"field":"t","type":"nominal"}}}
 ]},
 {"width":30,"height":267.7,"layer":[
  {"data":{"name":"c"},"mark":{"type":"text","align":"right","baseline":"middle","fontSize":10.5},"encoding":{"x":{"datum":1,"type":"quantitative","scale":{"domain":[0,1],"nice":false,"zero":false},"axis":null},"y":{"field":"study","type":"nominal","scale":{"type":"point","domain":["hdr","g1","Kaup M","Pumberger M","Neuhaus V","Diekhoff T 2019 – Without prior surgery","Diekhoff T 2019 – With prior surgery","Karaca L","Bierry G – Thoracic","Bierry G – Lumbar","Diekhoff T 2017","Schwaiger BJ","Foti G","Petritsch B","Wang CK","Na D","Engelhard N","g2","summary"],"padding":1.362,"align":0.81},"axis":null},"text":{"field":"et","type":"nominal"}}},
  {"data":{"values":[{"t":"Total"}]},"mark":{"type":"text","align":"right","baseline":"middle","fontSize":10.5,"fontWeight":"bold"},"encoding":{"x":{"datum":1,"type":"quantitative","scale":{"domain":[0,1],"nice":false,"zero":false},"axis":null},"y":{"datum":"hdr","type":"nominal","scale":{"type":"point","domain":["hdr","g1","Kaup M","Pumberger M","Neuhaus V","Diekhoff T 2019 – Without prior surgery","Diekhoff T 2019 – With prior surgery","Karaca L","Bierry G – Thoracic","Bierry G – Lumbar","Diekhoff T 2017","Schwaiger BJ","Foti G","Petritsch B","Wang CK","Na D","Engelhard N","g2","summary"],"padding":1.362,"align":0.81},"axis":null},"text":{"field":"t","type":"nominal"}}},
  {"data":{"values":[{"t":"Experimental"}]},"mark":{"type":"text","align":"right","baseline":"middle","fontSize":10.5,"fontWeight":"bold","dy":-11.5},"encoding":{"x":{"datum":1,"type":"quantitative","scale":{"domain":[0,1],"nice":false,"zero":false},"axis":null},"y":{"datum":"hdr","type":"nominal","scale":{"type":"point","domain":["hdr","g1","Kaup M","Pumberger M","Neuhaus V","Diekhoff T 2019 – Without prior surgery","Diekhoff T 2019 – With prior surgery","Karaca L","Bierry G – Thoracic","Bierry G – Lumbar","Diekhoff T 2017","Schwaiger BJ","Foti G","Petritsch B","Wang CK","Na D","Engelhard N","g2","summary"],"padding":1.362,"align":0.81},"axis":null},"text":{"field":"t","type":"nominal"}}},
  {"data":{"name":"c_sum"},"mark":{"type":"text","align":"right","baseline":"middle","fontSize":10.5,"fontWeight":"bold"},"encoding":{"x":{"datum":1,"type":"quantitative","scale":{"domain":[0,1],"nice":false,"zero":false},"axis":null},"y":{"datum":"summary","type":"nominal","scale":{"type":"point","domain":["hdr","g1","Kaup M","Pumberger M","Neuhaus V","Diekhoff T 2019 – Without prior surgery","Diekhoff T 2019 – With prior surgery","Karaca L","Bierry G – Thoracic","Bierry G – Lumbar","Diekhoff T 2017","Schwaiger BJ","Foti G","Petritsch B","Wang CK","Na D","Engelhard N","g2","summary"],"padding":1.362,"align":0.81},"axis":null},"text":{"field":"et","type":"nominal"}}}
 ]},
 {"width":39,"height":267.7,"layer":[
  {"data":{"name":"c"},"mark":{"type":"text","align":"right","baseline":"middle","fontSize":10.5},"encoding":{"x":{"datum":1,"type":"quantitative","scale":{"domain":[0,1],"nice":false,"zero":false},"axis":null},"y":{"field":"study","type":"nominal","scale":{"type":"point","domain":["hdr","g1","Kaup M","Pumberger M","Neuhaus V","Diekhoff T 2019 – Without prior surgery","Diekhoff T 2019 – With prior surgery","Karaca L","Bierry G – Thoracic","Bierry G – Lumbar","Diekhoff T 2017","Schwaiger BJ","Foti G","Petritsch B","Wang CK","Na D","Engelhard N","g2","summary"],"padding":1.362,"align":0.81},"axis":null},"text":{"field":"ce","type":"nominal"}}},
  {"data":{"values":[{"t":"Events"}]},"mark":{"type":"text","align":"right","baseline":"middle","fontSize":10.5,"fontWeight":"bold"},"encoding":{"x":{"datum":1,"type":"quantitative","scale":{"domain":[0,1],"nice":false,"zero":false},"axis":null},"y":{"datum":"hdr","type":"nominal","scale":{"type":"point","domain":["hdr","g1","Kaup M","Pumberger M","Neuhaus V","Diekhoff T 2019 – Without prior surgery","Diekhoff T 2019 – With prior surgery","Karaca L","Bierry G – Thoracic","Bierry G – Lumbar","Diekhoff T 2017","Schwaiger BJ","Foti G","Petritsch B","Wang CK","Na D","Engelhard N","g2","summary"],"padding":1.362,"align":0.81},"axis":null},"text":{"field":"t","type":"nominal"}}}
 ]},
 {"width":30.5,"height":267.7,"layer":[
  {"data":{"name":"c"},"mark":{"type":"text","align":"right","baseline":"middle","fontSize":10.5},"encoding":{"x":{"datum":1,"type":"quantitative","scale":{"domain":[0,1],"nice":false,"zero":false},"axis":null},"y":{"field":"study","type":"nominal","scale":{"type":"point","domain":["hdr","g1","Kaup M","Pumberger M","Neuhaus V","Diekhoff T 2019 – Without prior surgery","Diekhoff T 2019 – With prior surgery","Karaca L","Bierry G – Thoracic","Bierry G – Lumbar","Diekhoff T 2017","Schwaiger BJ","Foti G","Petritsch B","Wang CK","Na D","Engelhard N","g2","summary"],"padding":1.362,"align":0.81},"axis":null},"text":{"field":"ct","type":"nominal"}}},
  {"data":{"values":[{"t":"Total"}]},"mark":{"type":"text","align":"right","baseline":"middle","fontSize":10.5,"fontWeight":"bold"},"encoding":{"x":{"datum":1,"type":"quantitative","scale":{"domain":[0,1],"nice":false,"zero":false},"axis":null},"y":{"datum":"hdr","type":"nominal","scale":{"type":"point","domain":["hdr","g1","Kaup M","Pumberger M","Neuhaus V","Diekhoff T 2019 – Without prior surgery","Diekhoff T 2019 – With prior surgery","Karaca L","Bierry G – Thoracic","Bierry G – Lumbar","Diekhoff T 2017","Schwaiger BJ","Foti G","Petritsch B","Wang CK","Na D","Engelhard N","g2","summary"],"padding":1.362,"align":0.81},"axis":null},"text":{"field":"t","type":"nominal"}}},
  {"data":{"values":[{"t":"Control"}]},"mark":{"type":"text","align":"right","baseline":"middle","fontSize":10.5,"fontWeight":"bold","dy":-11.5},"encoding":{"x":{"datum":1,"type":"quantitative","scale":{"domain":[0,1],"nice":false,"zero":false},"axis":null},"y":{"datum":"hdr","type":"nominal","scale":{"type":"point","domain":["hdr","g1","Kaup M","Pumberger M","Neuhaus V","Diekhoff T 2019 – Without prior surgery","Diekhoff T 2019 – With prior surgery","Karaca L","Bierry G – Thoracic","Bierry G – Lumbar","Diekhoff T 2017","Schwaiger BJ","Foti G","Petritsch B","Wang CK","Na D","Engelhard N","g2","summary"],"padding":1.362,"align":0.81},"axis":null},"text":{"field":"t","type":"nominal"}}},
  {"data":{"name":"c_sum"},"mark":{"type":"text","align":"right","baseline":"middle","fontSize":10.5,"fontWeight":"bold"},"encoding":{"x":{"datum":1,"type":"quantitative","scale":{"domain":[0,1],"nice":false,"zero":false},"axis":null},"y":{"datum":"summary","type":"nominal","scale":{"type":"point","domain":["hdr","g1","Kaup M","Pumberger M","Neuhaus V","Diekhoff T 2019 – Without prior surgery","Diekhoff T 2019 – With prior surgery","Karaca L","Bierry G – Thoracic","Bierry G – Lumbar","Diekhoff T 2017","Schwaiger BJ","Foti G","Petritsch B","Wang CK","Na D","Engelhard N","g2","summary"],"padding":1.362,"align":0.81},"axis":null},"text":{"field":"ct","type":"nominal"}}}
 ]},
 {"width":29.5,"height":267.7,"data":{"values":[]},"mark":"text"},
 {"width":103.5,"height":267.7,"layer":[
  {"data":{"name":"c_sum"},"mark":{"type":"rule","color":"#000000","strokeWidth":1,"yOffset":-10,"y2Offset":6.7,"clip":false},"encoding":{"x":{"datum":1,"type":"quantitative","scale":{"type":"log","domain":[0.001,1000],"nice":false},"axis":{"values":[0.001,0.1,1,10,1000],"format":"~g","title":"Diagnostic Odds Ratio","tickSize":5,"labelPadding":3,"titlePadding":3,"labelFontSize":10.5,"titleFontSize":10.5}},"y":{"datum":"Kaup M","type":"nominal","scale":{"type":"point","domain":["hdr","g1","Kaup M","Pumberger M","Neuhaus V","Diekhoff T 2019 – Without prior surgery","Diekhoff T 2019 – With prior surgery","Karaca L","Bierry G – Thoracic","Bierry G – Lumbar","Diekhoff T 2017","Schwaiger BJ","Foti G","Petritsch B","Wang CK","Na D","Engelhard N","g2","summary"],"padding":1.362,"align":0.81},"axis":null},"y2":{"datum":"summary"}}},
  {"data":{"name":"c_sum"},"mark":{"type":"rule","strokeDash":[1,2],"color":"#333333","strokeWidth":1,"yOffset":-5,"y2Offset":6.7,"clip":false},"encoding":{"x":{"field":"est","type":"quantitative","scale":{"type":"log","domain":[0.001,1000],"nice":false},"axis":{"values":[0.001,0.1,1,10,1000],"format":"~g","title":"Diagnostic Odds Ratio","tickSize":5,"labelPadding":3,"titlePadding":3,"labelFontSize":10.5,"titleFontSize":10.5}},"y":{"datum":"Kaup M","type":"nominal","scale":{"type":"point","domain":["hdr","g1","Kaup M","Pumberger M","Neuhaus V","Diekhoff T 2019 – Without prior surgery","Diekhoff T 2019 – With prior surgery","Karaca L","Bierry G – Thoracic","Bierry G – Lumbar","Diekhoff T 2017","Schwaiger BJ","Foti G","Petritsch B","Wang CK","Na D","Engelhard N","g2","summary"],"padding":1.362,"align":0.81},"axis":null},"y2":{"datum":"summary"}}},
  {"data":{"name":"c"},"mark":{"type":"point","shape":"square","filled":true,"size":115,"color":"#BEBEBE","opacity":1,"strokeWidth":0,"clip":false},"encoding":{"x":{"field":"est","type":"quantitative","scale":{"type":"log","domain":[0.001,1000],"nice":false},"axis":{"values":[0.001,0.1,1,10,1000],"format":"~g","title":"Diagnostic Odds Ratio","tickSize":5,"labelPadding":3,"titlePadding":3,"labelFontSize":10.5,"titleFontSize":10.5}},"y":{"field":"study","type":"nominal","scale":{"type":"point","domain":["hdr","g1","Kaup M","Pumberger M","Neuhaus V","Diekhoff T 2019 – Without prior surgery","Diekhoff T 2019 – With prior surgery","Karaca L","Bierry G – Thoracic","Bierry G – Lumbar","Diekhoff T 2017","Schwaiger BJ","Foti G","Petritsch B","Wang CK","Na D","Engelhard N","g2","summary"],"padding":1.362,"align":0.81},"axis":null}}},
  {"data":{"name":"c"},"mark":{"type":"rule","strokeWidth":1.1,"clip":false},"encoding":{"x":{"field":"lo","type":"quantitative","scale":{"type":"log","domain":[0.001,1000],"nice":false},"axis":{"values":[0.001,0.1,1,10,1000],"format":"~g","title":"Diagnostic Odds Ratio","tickSize":5,"labelPadding":3,"titlePadding":3,"labelFontSize":10.5,"titleFontSize":10.5}},"x2":{"field":"hi"},"y":{"field":"study","type":"nominal","scale":{"type":"point","domain":["hdr","g1","Kaup M","Pumberger M","Neuhaus V","Diekhoff T 2019 – Without prior surgery","Diekhoff T 2019 – With prior surgery","Karaca L","Bierry G – Thoracic","Bierry G – Lumbar","Diekhoff T 2017","Schwaiger BJ","Foti G","Petritsch B","Wang CK","Na D","Engelhard N","g2","summary"],"padding":1.362,"align":0.81},"axis":null},"color":{"condition":{"test":"log(datum.est / datum.lo) < 0.735 && log(datum.hi / datum.est) < 0.735","value":"#ffffff"},"value":"#1a1a1a"}}},
  {"data":{"name":"c"},"mark":{"type":"tick","size":4,"thickness":1,"clip":false},"encoding":{"x":{"field":"est","type":"quantitative","scale":{"type":"log","domain":[0.001,1000],"nice":false},"axis":{"values":[0.001,0.1,1,10,1000],"format":"~g","title":"Diagnostic Odds Ratio","tickSize":5,"labelPadding":3,"titlePadding":3,"labelFontSize":10.5,"titleFontSize":10.5}},"y":{"field":"study","type":"nominal","scale":{"type":"point","domain":["hdr","g1","Kaup M","Pumberger M","Neuhaus V","Diekhoff T 2019 – Without prior surgery","Diekhoff T 2019 – With prior surgery","Karaca L","Bierry G – Thoracic","Bierry G – Lumbar","Diekhoff T 2017","Schwaiger BJ","Foti G","Petritsch B","Wang CK","Na D","Engelhard N","g2","summary"],"padding":1.362,"align":0.81},"axis":null},"color":{"condition":{"test":"log(datum.est / datum.lo) < 0.735 && log(datum.hi / datum.est) < 0.735","value":"#ffffff"},"value":"#1a1a1a"}}},
  {"data":{"name":"c_sum"},"transform":[{"fold":["lo","est","hi"],"as":["k","v"]}],"mark":{"type":"trail","color":"#C8C8C8","stroke":"#444444","strokeWidth":0.7,"clip":false},"encoding":{"x":{"field":"v","type":"quantitative","scale":{"type":"log","domain":[0.001,1000],"nice":false},"axis":{"values":[0.001,0.1,1,10,1000],"format":"~g","title":"Diagnostic Odds Ratio","tickSize":5,"labelPadding":3,"titlePadding":3,"labelFontSize":10.5,"titleFontSize":10.5}},"y":{"datum":"summary","type":"nominal","scale":{"type":"point","domain":["hdr","g1","Kaup M","Pumberger M","Neuhaus V","Diekhoff T 2019 – Without prior surgery","Diekhoff T 2019 – With prior surgery","Karaca L","Bierry G – Thoracic","Bierry G – Lumbar","Diekhoff T 2017","Schwaiger BJ","Foti G","Petritsch B","Wang CK","Na D","Engelhard N","g2","summary"],"padding":1.362,"align":0.81},"axis":null},"size":{"field":"k","type":"nominal","scale":{"type":"ordinal","domain":["lo","est","hi"],"range":[0,5.5,0]},"legend":null}}},
  {"data":{"values":[{"t":"Odds Ratio"}]},"mark":{"type":"text","align":"center","baseline":"middle","fontSize":10.5,"fontWeight":"bold"},"encoding":{"y":{"datum":"hdr","type":"nominal","scale":{"type":"point","domain":["hdr","g1","Kaup M","Pumberger M","Neuhaus V","Diekhoff T 2019 – Without prior surgery","Diekhoff T 2019 – With prior surgery","Karaca L","Bierry G – Thoracic","Bierry G – Lumbar","Diekhoff T 2017","Schwaiger BJ","Foti G","Petritsch B","Wang CK","Na D","Engelhard N","g2","summary"],"padding":1.362,"align":0.81},"axis":null},"text":{"field":"t","type":"nominal"}}}
 ]},
 {"width":74.5,"height":267.7,"layer":[
  {"data":{"name":"c"},"mark":{"type":"text","align":"right","baseline":"middle","fontSize":10.5},"encoding":{"x":{"datum":1,"type":"quantitative","scale":{"domain":[0,1],"nice":false,"zero":false},"axis":null},"y":{"field":"study","type":"nominal","scale":{"type":"point","domain":["hdr","g1","Kaup M","Pumberger M","Neuhaus V","Diekhoff T 2019 – Without prior surgery","Diekhoff T 2019 – With prior surgery","Karaca L","Bierry G – Thoracic","Bierry G – Lumbar","Diekhoff T 2017","Schwaiger BJ","Foti G","Petritsch B","Wang CK","Na D","Engelhard N","g2","summary"],"padding":1.362,"align":0.81},"axis":null},"text":{"field":"est","type":"quantitative","format":".3f"}}},
  {"data":{"values":[{"t":"OR"}]},"mark":{"type":"text","align":"right","baseline":"middle","fontSize":10.5,"fontWeight":"bold"},"encoding":{"x":{"datum":1,"type":"quantitative","scale":{"domain":[0,1],"nice":false,"zero":false},"axis":null},"y":{"datum":"hdr","type":"nominal","scale":{"type":"point","domain":["hdr","g1","Kaup M","Pumberger M","Neuhaus V","Diekhoff T 2019 – Without prior surgery","Diekhoff T 2019 – With prior surgery","Karaca L","Bierry G – Thoracic","Bierry G – Lumbar","Diekhoff T 2017","Schwaiger BJ","Foti G","Petritsch B","Wang CK","Na D","Engelhard N","g2","summary"],"padding":1.362,"align":0.81},"axis":null},"text":{"field":"t","type":"nominal"}}},
  {"data":{"name":"c_sum"},"mark":{"type":"text","align":"right","baseline":"middle","fontSize":10.5,"fontWeight":"bold"},"encoding":{"x":{"datum":1,"type":"quantitative","scale":{"domain":[0,1],"nice":false,"zero":false},"axis":null},"y":{"datum":"summary","type":"nominal","scale":{"type":"point","domain":["hdr","g1","Kaup M","Pumberger M","Neuhaus V","Diekhoff T 2019 – Without prior surgery","Diekhoff T 2019 – With prior surgery","Karaca L","Bierry G – Thoracic","Bierry G – Lumbar","Diekhoff T 2017","Schwaiger BJ","Foti G","Petritsch B","Wang CK","Na D","Engelhard N","g2","summary"],"padding":1.362,"align":0.81},"axis":null},"text":{"field":"est","type":"quantitative","format":".3f"}}}
 ]},
 {"width":102,"height":267.7,"layer":[
  {"data":{"name":"c"},"mark":{"type":"text","align":"right","baseline":"middle","fontSize":10.5},"encoding":{"x":{"datum":1,"type":"quantitative","scale":{"domain":[0,1],"nice":false,"zero":false},"axis":null},"y":{"field":"study","type":"nominal","scale":{"type":"point","domain":["hdr","g1","Kaup M","Pumberger M","Neuhaus V","Diekhoff T 2019 – Without prior surgery","Diekhoff T 2019 – With prior surgery","Karaca L","Bierry G – Thoracic","Bierry G – Lumbar","Diekhoff T 2017","Schwaiger BJ","Foti G","Petritsch B","Wang CK","Na D","Engelhard N","g2","summary"],"padding":1.362,"align":0.81},"axis":null},"text":{"field":"ci","type":"nominal"}}},
  {"data":{"values":[{"t":"95%–CI"}]},"mark":{"type":"text","align":"right","baseline":"middle","fontSize":10.5,"fontWeight":"bold"},"encoding":{"x":{"datum":1,"type":"quantitative","scale":{"domain":[0,1],"nice":false,"zero":false},"axis":null},"y":{"datum":"hdr","type":"nominal","scale":{"type":"point","domain":["hdr","g1","Kaup M","Pumberger M","Neuhaus V","Diekhoff T 2019 – Without prior surgery","Diekhoff T 2019 – With prior surgery","Karaca L","Bierry G – Thoracic","Bierry G – Lumbar","Diekhoff T 2017","Schwaiger BJ","Foti G","Petritsch B","Wang CK","Na D","Engelhard N","g2","summary"],"padding":1.362,"align":0.81},"axis":null},"text":{"field":"t","type":"nominal"}}},
  {"data":{"name":"c_sum"},"mark":{"type":"text","align":"right","baseline":"middle","fontSize":10.5,"fontWeight":"bold"},"encoding":{"x":{"datum":1,"type":"quantitative","scale":{"domain":[0,1],"nice":false,"zero":false},"axis":null},"y":{"datum":"summary","type":"nominal","scale":{"type":"point","domain":["hdr","g1","Kaup M","Pumberger M","Neuhaus V","Diekhoff T 2019 – Without prior surgery","Diekhoff T 2019 – With prior surgery","Karaca L","Bierry G – Thoracic","Bierry G – Lumbar","Diekhoff T 2017","Schwaiger BJ","Foti G","Petritsch B","Wang CK","Na D","Engelhard N","g2","summary"],"padding":1.362,"align":0.81},"axis":null},"text":{"field":"ci","type":"nominal"}}}
 ]}
],"spacing":0,"bounds":"flush","resolve":{"scale":{"x":"independent","y":"independent"}}}
],
"spacing":11,
"resolve":{"scale":{"x":"independent","y":"independent"}},
"config":{
 "view":{"stroke":null},
 "font":"Liberation Sans",
 "text":{"font":"Liberation Sans","color":"#000000"},
 "axis":{"grid":false,"domainColor":"#000000","tickColor":"#000000","labelColor":"#000000","titleColor":"#000000","titleFontWeight":"normal","labelFlush":false,"labelOverlap":false,"labelBound":false,"labelFont":"Liberation Sans","titleFont":"Liberation Sans","domainWidth":1,"tickWidth":1}
}
}
